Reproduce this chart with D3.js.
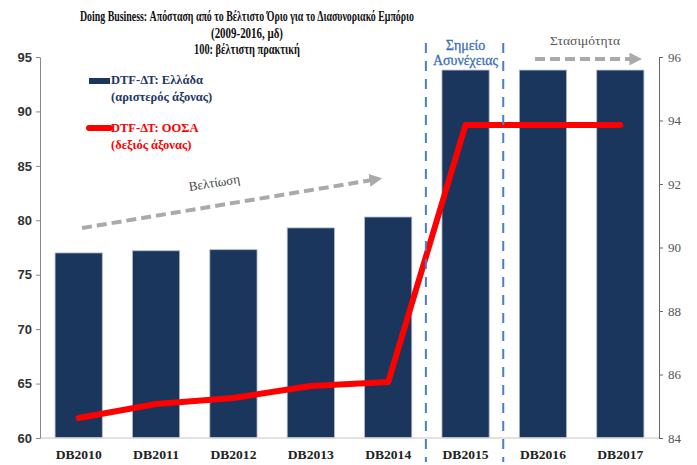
<!DOCTYPE html>
<html>
<head>
<meta charset="utf-8">
<script src="https://cdn.jsdelivr.net/npm/d3@7"></script>
<style>
body { margin: 0; background: #fff; }
svg text { font-family: "Liberation Serif", serif; }
</style>
</head>
<body>
<div id="chart"></div>
<script>
// data
var categories = ["DB2010", "DB2011", "DB2012", "DB2013", "DB2014", "DB2015", "DB2016", "DB2017"];
var greece = [77.0, 77.2, 77.3, 79.3, 80.3, 93.8, 93.8, 93.8];
var oecd = [84.63, 85.07, 85.26, 85.64, 85.76, 93.86, 93.86, 93.86];
var leftTicks = [60, 65, 70, 75, 80, 85, 90, 95];
var rightTicks = [84, 86, 88, 90, 92, 94, 96];

var margin = {top: 57, right: 38, bottom: 27, left: 40},
    width = 697 - margin.left - margin.right,
    height = 465 - margin.top - margin.bottom;

var svg = d3.select("#chart")
  .append("svg")
    .attr("width", 697)
    .attr("height", 465);

var g = svg.append("g")
    .attr("transform", "translate(" + margin.left + "," + margin.top + ")");

var x = d3.scaleBand()
  .range([0, width])
  .domain(categories)
  .paddingInner(0.39)
  .paddingOuter(0.195);

var yL = d3.scaleLinear().domain([60, 95]).range([height, 0]);
var yR = d3.scaleLinear().domain([84, 96]).range([height, 0]);

// bars
g.selectAll("rect.bar")
  .data(categories)
  .enter()
  .append("rect")
    .attr("class", "bar")
    .attr("x", function(d) { return x(d); })
    .attr("y", function(d, i) { return yL(greece[i]); })
    .attr("width", x.bandwidth())
    .attr("height", function(d, i) { return height - yL(greece[i]); })
    .attr("fill", "#1b365d")
    .attr("stroke", "#aebbd0")
    .attr("stroke-width", 0.8);

// baseline
g.append("line")
  .attr("x1", 0).attr("x2", width)
  .attr("y1", height).attr("y2", height)
  .attr("stroke", "#d9d9d9").attr("stroke-width", 1.5);

// left axis
var axL = g.append("g")
  .call(d3.axisLeft(yL).tickValues(leftTicks).tickSize(4).tickSizeOuter(0));
axL.select(".domain").attr("stroke", "#888");
axL.selectAll(".tick line").attr("stroke", "#888");
axL.selectAll("text")
  .style("font-family", "'Liberation Sans', Arial, sans-serif")
  .style("font-weight", "bold")
  .style("font-size", "13px")
  .attr("fill", "#333")
  .attr("x", -8);

// right axis
var axR = g.append("g")
  .attr("transform", "translate(" + width + ",0)")
  .call(d3.axisRight(yR).tickValues(rightTicks).tickSize(4).tickSizeOuter(0));
axR.select(".domain").attr("stroke", "#666");
axR.selectAll(".tick line").attr("stroke", "#666");
axR.selectAll("text")
  .style("font-family", "'Liberation Serif', serif")
  .style("font-size", "13px")
  .attr("fill", "#555")
  .attr("x", 9);

// category labels
g.selectAll("text.cat")
  .data(categories)
  .enter()
  .append("text")
    .attr("class", "cat")
    .attr("x", function(d) { return x(d) + x.bandwidth() / 2; })
    .attr("y", height + 21)
    .attr("text-anchor", "middle")
    .style("font-weight", "bold")
    .style("font-size", "13px")
    .attr("textLength", 46)
    .attr("lengthAdjust", "spacingAndGlyphs")
    .attr("fill", "#222")
    .text(function(d) { return d; });

// OECD line
var line = d3.line()
  .x(function(d, i) { return x(categories[i]) + x.bandwidth() / 2; })
  .y(function(d) { return yR(d); });

g.append("path")
  .datum(oecd)
  .attr("d", line)
  .attr("fill", "none")
  .attr("stroke", "#ff0000")
  .attr("stroke-width", 6)
  .attr("stroke-linejoin", "round")
  .attr("stroke-linecap", "round");

// discontinuity dashed lines
var step = x.step();
[5, 6].forEach(function(k) {
  var xx = x(categories[k]) - x.paddingInner() * step / 2 - 1;
  g.append("line")
    .attr("x1", xx).attr("x2", xx)
    .attr("y1", -14).attr("y2", height + 24)
    .attr("stroke", "#4a7fc1")
    .attr("stroke-width", 2)
    .attr("stroke-dasharray", "10,8");
});

var midX = x("DB2015") + x.bandwidth() / 2;
g.append("text")
  .attr("x", midX).attr("y", -7)
  .attr("text-anchor", "middle")
  .style("font-size", "14px")
  .attr("fill", "#3a6fb5")
  .attr("stroke", "#3a6fb5").attr("stroke-width", 0.3)
  .text("Σημείο");
g.append("text")
  .attr("x", midX).attr("y", 8)
  .attr("text-anchor", "middle")
  .style("font-size", "14px")
  .attr("textLength", 65)
  .attr("lengthAdjust", "spacingAndGlyphs")
  .attr("fill", "#3a6fb5")
  .attr("stroke", "#3a6fb5").attr("stroke-width", 0.3)
  .text("Ασυνέχειας");

// grey arrows
svg.append("defs").append("marker")
  .attr("id", "arrow")
  .attr("viewBox", "0 0 10 10")
  .attr("refX", 2).attr("refY", 5)
  .attr("markerWidth", 3.2).attr("markerHeight", 3.2)
  .attr("orient", "auto")
  .append("path")
    .attr("d", "M0,0 L10,5 L0,10 Z")
    .attr("fill", "#aaaaaa");

svg.append("line")
  .attr("x1", 82).attr("y1", 228)
  .attr("x2", 372).attr("y2", 180)
  .attr("stroke", "#aaaaaa")
  .attr("stroke-width", 4)
  .attr("stroke-dasharray", "10,5")
  .attr("marker-end", "url(#arrow)");

svg.append("text")
  .attr("transform", "translate(215,187) rotate(-9)")
  .attr("text-anchor", "middle")
  .style("font-size", "13px")
  .attr("fill", "#444")
  .text("Βελτίωση");

svg.append("line")
  .attr("x1", 535).attr("y1", 59)
  .attr("x2", 632).attr("y2", 59)
  .attr("stroke", "#aaaaaa")
  .attr("stroke-width", 4)
  .attr("stroke-dasharray", "10,5")
  .attr("marker-end", "url(#arrow)");

svg.append("text")
  .attr("x", 585).attr("y", 45)
  .attr("text-anchor", "middle")
  .style("font-size", "13.5px")
  .attr("fill", "#555")
  .text("Στασιμότητα");

// legend
svg.append("rect")
  .attr("x", 89).attr("y", 78)
  .attr("width", 21).attr("height", 6)
  .attr("fill", "#1b365d");
svg.append("text")
  .attr("x", 111).attr("y", 84)
  .style("font-weight", "bold").style("font-size", "12.5px")
  .attr("fill", "#1f3864")
  .text("DTF-ΔΤ: Ελλάδα");
svg.append("text")
  .attr("x", 111).attr("y", 101)
  .style("font-weight", "bold").style("font-size", "12.5px")
  .attr("fill", "#1f3864")
  .text("(αριστερός άξονας)");

svg.append("line")
  .attr("x1", 89).attr("x2", 110)
  .attr("y1", 128).attr("y2", 128)
  .attr("stroke", "#ff0000").attr("stroke-width", 6)
  .attr("stroke-linecap", "round");
svg.append("text")
  .attr("x", 111).attr("y", 132)
  .style("font-weight", "bold").style("font-size", "12.5px")
  .attr("fill", "#ff0000")
  .text("DTF-ΔΤ: ΟΟΣΑ");
svg.append("text")
  .attr("x", 111).attr("y", 149)
  .style("font-weight", "bold").style("font-size", "12.5px")
  .attr("fill", "#ff0000")
  .text("(δεξιός άξονας)");

// title
var titleLines = [
  {t: "Doing Business: Απόσταση από το Βέλτιστο Όριο για το Διασυνοριακό Εμπόριο", y: 21, w: 334},
  {t: "(2009-2016, μδ)", y: 38, w: 72},
  {t: "100: βέλτιστη πρακτική", y: 54, w: 106}
];
svg.selectAll("text.title")
  .data(titleLines)
  .enter()
  .append("text")
    .attr("class", "title")
    .attr("x", 247)
    .attr("y", function(d) { return d.y; })
    .attr("text-anchor", "middle")
    .style("font-weight", "bold")
    .style("font-size", "14px")
    .attr("textLength", function(d) { return d.w; })
    .attr("lengthAdjust", "spacingAndGlyphs")
    .attr("fill", "#111")
    .text(function(d) { return d.t; });
</script>
</body>
</html>
